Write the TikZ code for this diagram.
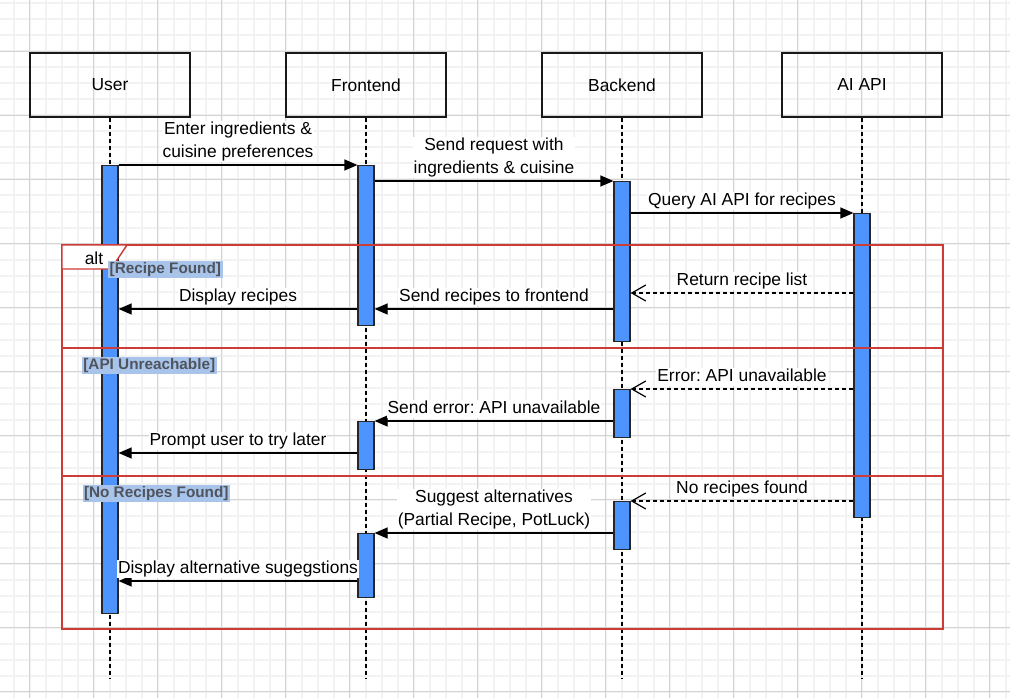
\documentclass[tikz,border=0pt]{standalone}
\usepackage{fontspec}
\setmainfont{Liberation Sans}
\frenchspacing
\usetikzlibrary{arrows.meta,positioning}

\definecolor{barblue}{HTML}{4D94FF}
\definecolor{altred}{HTML}{CC3B36}
\definecolor{guardbg}{HTML}{A9C4EB}
\definecolor{guardtxt}{HTML}{4F545C}
\definecolor{gridmaj}{HTML}{D3D3D3}
\definecolor{gridmin}{HTML}{F2F2F2}

\begin{document}
\begin{tikzpicture}[x=1pt,y=-1pt,
    font=\fontsize{17.4}{23}\selectfont,
    node distance=256pt,
    head/.style={draw=black!90,line width=1.3pt,minimum width=160pt,minimum height=64pt,inner sep=0pt},
    bar/.style={draw=black!85,line width=1.2pt,fill=barblue,minimum width=16pt,inner sep=0pt,anchor=north},
    life/.style={line width=1.2pt,dash pattern=on 4pt off 3pt},
    msg/.style={line width=1.2pt,-{Triangle[length=13pt,width=11pt]}},
    ret/.style={line width=1.2pt,dash pattern=on 4pt off 3pt,-{Straight Barb[length=14pt,width=16pt]}},
    lbl/.style={above,yshift=2pt,fill=white,inner sep=1pt,text depth=4pt,align=center,
      font=\fontsize{17.4}{23}\selectfont},
    altline/.style={draw=altred,line width=1.4pt},
    guard/.style={anchor=west,fill=guardbg,text=guardtxt,inner sep=1.5pt,text height=11pt,text depth=3pt,
      font=\bfseries\fontsize{15.3}{18}\selectfont},
    gridmin/.style={draw=gridmin,line width=2pt},
    gridmaj/.style={draw=gridmaj,line width=1.2pt}]
  \useasboundingbox (0,0) rectangle (1010,698);

  % background grid
  \foreach \x in {13.5,29.5,...,1010} \draw[gridmin] (\x,0) -- (\x,698);
  \foreach \y in {3.5,19.5,...,698} \draw[gridmin] (0,\y) -- (1010,\y);
  \foreach \x in {29.5,93.5,...,1010} \draw[gridmaj] (\x,0) -- (\x,698);
  \foreach \y in {51.5,115.5,...,698} \draw[gridmaj] (0,\y) -- (1010,\y);

  \node[head] (user) at (110,85) {User};
  \node[head,right of=user] (front) {Frontend};
  \node[head,right of=front] (back) {Backend};
  \node[head,right of=back,xshift=-16pt] (ai) {AI API};

  \coordinate (bottom) at (0,678);
  \draw[life] (user.south) -- (user.south |- bottom);
  \draw[life] (front.south) -- (front.south |- bottom);
  \draw[life] (back.south) -- (back.south |- bottom);
  \draw[life] (ai.south) -- (ai.south |- bottom);

  % activations
  \node[bar,minimum height=448pt] (u1) at (user |- 0,165) {};
  \node[bar,minimum height=160pt] (f1) at (front |- 0,165) {};
  \node[bar,minimum height=160pt] (b1) at (back |- 0,181) {};
  \node[bar,minimum height=304pt] (a1) at (ai |- 0,213) {};
  \node[bar,minimum height=48pt] (b2) at (back |- 0,389) {};
  \node[bar,minimum height=48pt] (f2) at (front |- 0,421) {};
  \node[bar,minimum height=48pt] (b3) at (back |- 0,501) {};
  \node[bar,minimum height=64pt] (f3) at (front |- 0,533) {};

  \coordinate (r1) at (0,293);
  \coordinate (r2) at (0,309);
  \coordinate (r3) at (0,453);
  \coordinate (r4) at (0,581);

  \draw[msg] (u1.north east) -- node[lbl] {Enter ingredients \&\\cuisine preferences} (f1.north west);
  \draw[msg] (f1.east |- b1.north) -- node[lbl] {Send request with\\ingredients \& cuisine} (b1.north west);
  \draw[msg] (b1.east |- a1.north) -- node[lbl] {Query AI API for recipes} (a1.north west);
  \draw[ret] (a1.west |- r1) -- node[lbl] {Return recipe list} (b1.east |- r1);
  \draw[msg] (b1.west |- r2) -- node[lbl] {Send recipes to frontend} (f1.east |- r2);
  \draw[msg] (f1.west |- r2) -- node[lbl] {Display recipes} (u1.east |- r2);
  \draw[ret] (a1.west |- b2.north) -- node[lbl] {Error: API unavailable} (b2.north east);
  \draw[msg] (b2.west |- f2.north) -- node[lbl] {Send error: API unavailable} (f2.north east);
  \draw[msg] (f2.west |- r3) -- node[lbl] {Prompt user to try later} (u1.east |- r3);
  \draw[ret] (a1.west |- b3.north) -- node[lbl] {No recipes found} (b3.north east);
  \draw[msg] (b3.west |- f3.north) -- node[lbl] {Suggest alternatives\\(Partial Recipe, PotLuck)} (f3.north east);
  \draw[msg] (f3.west |- r4) -- node[lbl] {Display alternative sugegstions} (u1.east |- r4);

  % alt frame
  \node[altline,minimum width=881pt,minimum height=384pt,inner sep=0pt,outer sep=0pt,anchor=north west] (fr) at (62,245) {};
  \draw[altline] (fr.west |- 0,348) -- (fr.east |- 0,348);
  \draw[altline] (fr.west |- 0,476) -- (fr.east |- 0,476);
  \draw[altline,fill=white] (fr.north west) -- ++(65,0) -- ++(-16,24) -- ++(-49,0) -- cycle;
  \node[anchor=base,inner sep=0pt] (alt) at (94,264) {alt};

  \node[guard] (g1) at (108,269.2) {[Recipe Found]};
  \node[guard] (g2) at (81.7,365) {[API Unreachable]};
  \node[guard] (g3) at (82.3,493) {[No Recipes Found]};
\end{tikzpicture}
\end{document}
